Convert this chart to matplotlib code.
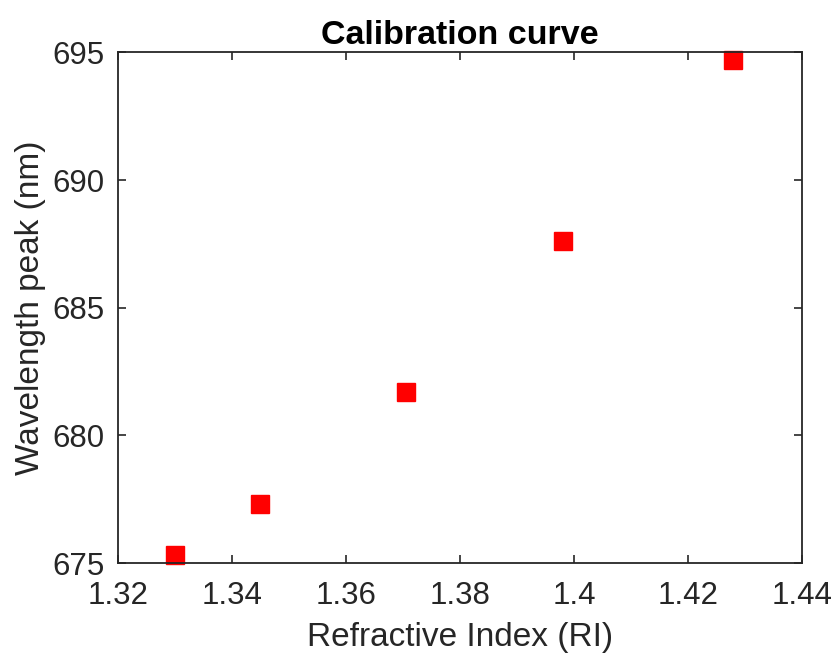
import numpy as np
import matplotlib.pyplot as plt

plt.rcParams['font.family'] = ['Liberation Sans', 'DejaVu Sans']

ri = [1.330, 1.345, 1.3705, 1.398, 1.428]
peak = [675.3, 677.3, 681.7, 687.6, 694.7]

fig = plt.figure(figsize=(8.37, 6.64), dpi=100)
ax = fig.add_axes([0.141, 0.152, 0.817, 0.769])
ax.plot(ri, peak, 's', color='red', markersize=13.3, clip_on=False)

ax.set_xlim(1.32, 1.44)
ax.set_ylim(675, 695)
ax.set_xticks(np.arange(1.32, 1.441, 0.02))
ax.set_xticklabels(['1.32', '1.34', '1.36', '1.38', '1.4', '1.42', '1.44'])
ax.set_yticks([675, 680, 685, 690, 695])

txt = '#262626'
ax.tick_params(direction='in', top=True, right=True, labelsize=22.5, colors=txt,
               length=6, width=1.2)
ax.tick_params(axis='x', pad=13)
ax.tick_params(axis='y', pad=10)
for s in ax.spines.values():
    s.set_color(txt)
    s.set_linewidth(1.3)

ax.set_xlabel('Refractive Index (RI)', fontsize=24, color=txt, labelpad=8)
ax.set_ylabel('Wavelength peak (nm)', fontsize=24, color=txt, labelpad=4)
ax.set_title('Calibration curve', fontsize=24.5, fontweight='bold', color='black', pad=6)

fig.savefig('out.png', dpi=100)
